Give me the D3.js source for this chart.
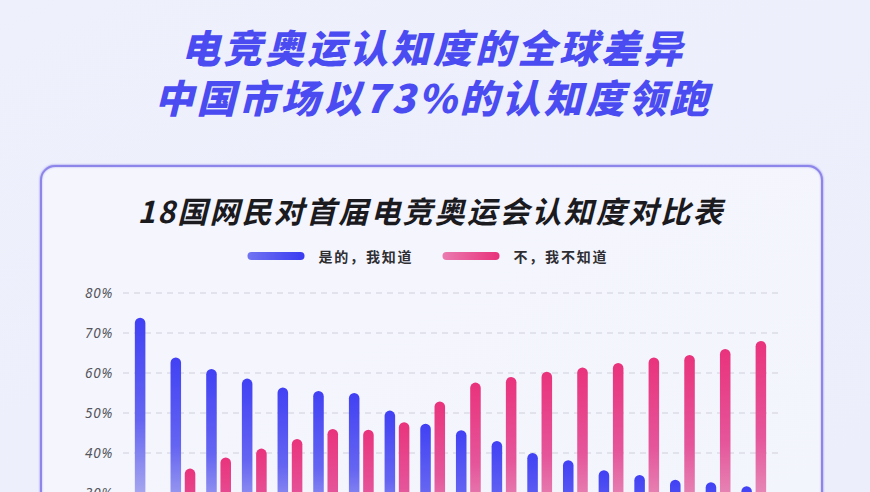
<!DOCTYPE html>
<html>
<head>
<meta charset="utf-8">
<script src="https://cdn.jsdelivr.net/npm/d3@7"></script>
<style>
  html, body { margin: 0; padding: 0; overflow: hidden; background: #eef0fb; }
  svg { display: block; }
</style>
</head>
<body>
<div id="chart"></div>
<script>
// ---- data ---------------------------------------------------------------
// 18 countries, sorted by "yes" share (names sit below the visible frame,
// so they only feed the band scale)
var countries = ["中国", "印度", "巴西", "印尼", "越南", "泰国", "菲律宾", "马来西亚", "墨西哥",
                 "沙特", "土耳其", "西班牙", "意大利", "美国", "法国", "英国", "德国", "日本"];
var yesValues = [73.8, 63.9, 61.0, 58.6, 56.4, 55.5, 55.0, 50.6, 47.3,
                 45.7, 43.0, 40.0, 38.2, 35.7, 34.5, 33.3, 32.7, 31.7];
var noValues  = [26.2, 36.1, 38.9, 41.1, 43.5, 46.0, 45.8, 47.7, 52.9,
                 57.6, 59.0, 60.3, 61.4, 62.5, 63.9, 64.5, 66.0, 68.0];
var yTicks = [30, 40, 50, 60, 70, 80];
var seriesKeys = ["yes", "no"];
var seriesNames = ["是的，我知道", "不，我不知道"];

var mainTitle = ["电竞奥运认知度的全球差异", "中国市场以73%的认知度领跑"];
var chartTitle = "18国网民对首届电竞奥运会认知度对比表";

// ---- layout -------------------------------------------------------------
var width = 870, height = 492;
var cjk = "'Noto Sans CJK SC', 'Noto Sans', sans-serif";

var svg = d3.select("#chart").append("svg")
	.attr("width", width)
	.attr("height", height);

var defs = svg.append("defs");

// page background
var bg = defs.append("linearGradient").attr("id", "bgGrad")
	.attr("x1", 0).attr("y1", 0).attr("x2", 1).attr("y2", 1);
bg.append("stop").attr("offset", 0).attr("stop-color", "#eef0fc");
bg.append("stop").attr("offset", 1).attr("stop-color", "#eceefb");

// vertical bar gradients (per bar)
function barGradient(id, stops)
{
	var g = defs.append("linearGradient").attr("id", id)
		.attr("x1", 0).attr("y1", 0).attr("x2", 0).attr("y2", 1);
	stops.forEach(function (s) {
		g.append("stop").attr("offset", s[0]).attr("stop-color", s[1]);
	});
}
barGradient("barYes", [[0, "#4141f4"], [0.35, "#6565f2"], [0.6, "#a7a7ef"], [1, "#d9d9f7"]]);
barGradient("barNo",  [[0, "#e9337c"], [0.35, "#e5559a"], [0.6, "#e690bb"], [1, "#f1cadf"]]);

// horizontal legend pill gradients
function pillGradient(id, from, to)
{
	var g = defs.append("linearGradient").attr("id", id)
		.attr("x1", 0).attr("y1", 0).attr("x2", 1).attr("y2", 0);
	g.append("stop").attr("offset", 0).attr("stop-color", from);
	g.append("stop").attr("offset", 1).attr("stop-color", to);
}
pillGradient("pillYes", "#7174f1", "#3a3af1");
pillGradient("pillNo", "#ea7bb0", "#e8317a");

var glow = defs.append("filter").attr("id", "glow")
	.attr("x", "-10%").attr("y", "-10%").attr("width", "120%").attr("height", "120%");
glow.append("feGaussianBlur").attr("in", "SourceGraphic").attr("stdDeviation", 1.2).attr("result", "b");
var merge = glow.append("feMerge");
merge.append("feMergeNode").attr("in", "b");
merge.append("feMergeNode").attr("in", "SourceGraphic");

svg.append("rect")
	.attr("width", width).attr("height", height)
	.attr("fill", "url(#bgGrad)");

// ---- headline -----------------------------------------------------------
svg.selectAll("text.headline")
	.data(mainTitle)
	.enter().append("text")
	.attr("class", "headline")
	.attr("x", 433)
	.attr("y", function (d, i) { return 46 + i * 50; })
	.attr("text-anchor", "middle")
	.attr("dominant-baseline", "central")
	.attr("font-family", cjk)
	.attr("font-size", 39)
	.attr("font-weight", 800)
	.attr("font-style", "italic")
	.attr("letter-spacing", 3)
	.attr("fill", "#4b4bf2")
	.text(function (d) { return d; });

// ---- card ---------------------------------------------------------------
svg.append("rect")
	.attr("x", 41).attr("y", 166)
	.attr("width", 781).attr("height", 420)
	.attr("rx", 14)
	.attr("fill", "rgba(255,255,255,0.22)")
	.attr("stroke", "#8d85ea")
	.attr("stroke-width", 2)
	.attr("filter", "url(#glow)");

svg.append("text")
	.attr("x", 431)
	.attr("y", 210)
	.attr("text-anchor", "middle")
	.attr("dominant-baseline", "central")
	.attr("font-family", cjk)
	.attr("font-size", 30)
	.attr("font-weight", 700)
	.attr("font-style", "italic")
	.attr("letter-spacing", 2.2)
	.attr("fill", "#1b1b1f")
	.text(chartTitle);

// ---- legend -------------------------------------------------------------
var legendX = [247.5, 442.5];
var legend = svg.selectAll("g.legend")
	.data(seriesKeys)
	.enter().append("g")
	.attr("class", "legend")
	.attr("transform", function (d, i) { return "translate(" + legendX[i] + ",256)"; });

legend.append("rect")
	.attr("x", 0).attr("y", -4)
	.attr("width", 57).attr("height", 8)
	.attr("rx", 4)
	.attr("fill", function (d) { return d === "yes" ? "url(#pillYes)" : "url(#pillNo)"; });

legend.append("text")
	.attr("x", 71)
	.attr("y", 0)
	.attr("dominant-baseline", "central")
	.attr("font-family", cjk)
	.attr("font-size", 14)
	.attr("font-weight", 700)
	.attr("letter-spacing", 1.8)
	.attr("fill", "#2e2e33")
	.text(function (d, i) { return seriesNames[i]; });

// ---- scales -------------------------------------------------------------
var y = d3.scaleLinear().domain([0, 80]).range([613, 293]);

var x0 = d3.scaleBand()
	.domain(countries)
	.range([129.4, 771.6])
	.padding(0);

var x1 = d3.scaleBand()
	.domain(seriesKeys)
	.range([-12.4, 12.4])
	.paddingInner(0.26);

// grid + y labels
var grid = svg.append("g");
grid.selectAll("line")
	.data(yTicks)
	.enter().append("line")
	.attr("x1", 123).attr("x2", 778)
	.attr("y1", function (d) { return y(d); })
	.attr("y2", function (d) { return y(d); })
	.attr("stroke", "#cfcfdb")
	.attr("stroke-width", 1)
	.attr("stroke-dasharray", "6,5");

var yAxis = d3.axisLeft(y)
	.tickValues(yTicks)
	.tickSize(0)
	.tickPadding(0)
	.tickFormat(function (d) { return d + "%"; });

var yAxisG = svg.append("g")
	.attr("transform", "translate(113,0)")
	.call(yAxis);
yAxisG.select(".domain").remove();
yAxisG.selectAll("text")
	.attr("font-family", "'Noto Sans', 'DejaVu Sans', sans-serif")
	.attr("font-size", 13.5)
	.attr("font-style", "italic")
	.attr("letter-spacing", 0.8)
	.attr("fill", "#55555c");

// ---- bars ---------------------------------------------------------------
var rows = countries.map(function (c, i) {
	return { country: c, yes: yesValues[i], no: noValues[i] };
});

var groups = svg.append("g").selectAll("g")
	.data(rows)
	.enter().append("g")
	.attr("transform", function (d) { return "translate(" + (x0(d.country) + x0.bandwidth() / 2) + ",0)"; });

groups.selectAll("rect")
	.data(function (d) { return seriesKeys.map(function (k) { return { key: k, value: d[k] }; }); })
	.enter().append("rect")
	.attr("x", function (d) { return x1(d.key); })
	.attr("width", x1.bandwidth())
	.attr("y", function (d) { return y(d.value); })
	.attr("height", function (d) { return y(0) - y(d.value); })
	.attr("rx", x1.bandwidth() / 2)
	.attr("fill", function (d) { return d.key === "yes" ? "url(#barYes)" : "url(#barNo)"; });
</script>
</body>
</html>
